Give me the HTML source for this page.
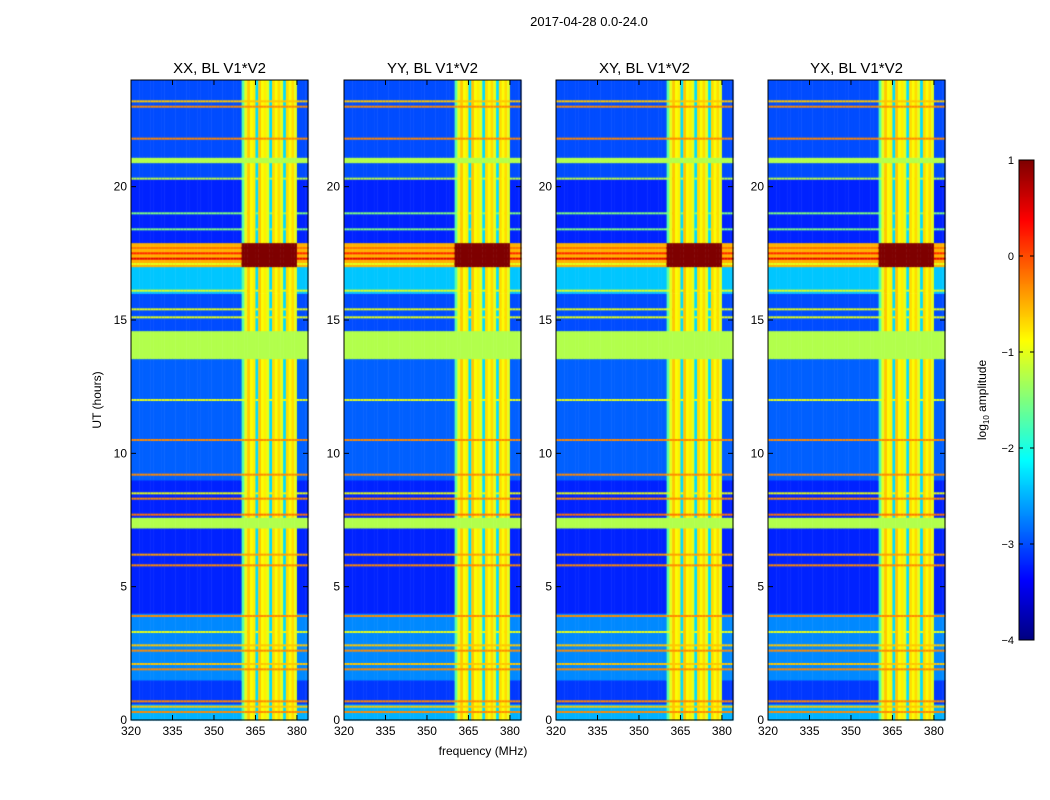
<!DOCTYPE html>
<html><head><meta charset="utf-8"><style>
body{margin:0;background:#fff;width:1050px;height:800px;overflow:hidden;font-family:"Liberation Sans",sans-serif}
#c{position:absolute;left:0;top:0}
#s{position:absolute;left:0;top:0}
</style></head><body>
<canvas id="c" width="1050" height="800"></canvas>
<svg id="s" width="1050" height="800"></svg>
<script>
// data: time segments [startHour, endHour, log10 amplitude]
const segStart=[0,0.6,1.5,4.0,7.2,7.6,9.0,13.55,14.6,16.0,17.0,17.9,20.3,20.9,21.1];
const segEnd=[0.6,1.5,4.0,7.2,7.6,9.0,13.55,14.6,16.0,17.0,17.9,20.3,20.9,21.1,24];
const segVal=[-2.5,-3.1,-2.7,-3.2,-1.25,-3.2,-2.9,-1.25,-3.0,-2.4,-0.5,-3.2,-3.0,-1.25,-3.0];
const segFlag=[0,0,0,0,1,0,0,1,0,0,2,0,0,1,0];
// narrow RFI lines in time
const lineHour=[0.3,0.5,0.7,1.9,2.1,2.6,2.8,3.3,3.9,5.8,6.2,7.7,8.3,8.5,9.2,10.5,12.0,15.1,15.4,16.1,17.1,17.3,17.5,17.7,18.4,19.0,20.3,21.8,23.0,23.2];
const lineVal=[-0.3,-0.6,-0.3,-0.3,-0.6,-0.3,-0.6,-1,-0.3,-0.3,-0.4,-0.2,-0.3,-1,-0.3,-0.3,-1,-1,-1,-1,-1,0.5,0.2,-0.2,-1.5,-1.5,-1.2,-0.3,-0.3,-0.6];
// frequency columns 320..383 MHz, per-MHz RFI level (-9 = none)
const freqMHz=[];for(let f=320;f<384;f++)freqMHz.push(f);
const colVal=[-9,-9,-9,-9,-9,-9,-9,-9,-9,-9,-9,-9,-9,-9,-9,-9,-9,-9,-9,-9,-9,-9,-9,-9,-9,-9,-9,-9,-9,-9,-9,-9,-9,-9,-9,-9,-9,-9,-9,-9,
-1.7,-1.0,-0.6,-0.9,-0.8,-2.3,-0.6,-0.9,-0.8,-1.0,-2.3,-0.7,-0.9,-0.7,-1.0,-2.3,-0.7,-0.9,-0.7,-1.0,-9,-9,-9,-9];
const xTicks=[320,335,350,365,380];
const yTicks=[0,5,10,15,20];
const cbTicks=[1,0,-1,-2,-3,-4];
const panelTitles=["XX, BL V1*V2","YY, BL V1*V2","XY, BL V1*V2","YX, BL V1*V2"];
const panelLeft=[131,344,556,768];
const PW=177,PT=80,PB=720,F0=320,F1=384,T1=24;

function jet(v){let t=Math.max(0,Math.min(1,(v+4)/5));
 const r=Math.max(0,Math.min(1,1.5-Math.abs(4*t-3))),g=Math.max(0,Math.min(1,1.5-Math.abs(4*t-2))),b=Math.max(0,Math.min(1,1.5-Math.abs(4*t-1)));
 return `rgb(${r*255|0},${g*255|0},${b*255|0})`;}
const ctx=document.getElementById('c').getContext('2d');
const S=document.getElementById('s');const NS="http://www.w3.org/2000/svg";
function el(t,a,txt){const e=document.createElementNS(NS,t);for(const k in a)e.setAttribute(k,a[k]);if(txt!==undefined)e.textContent=txt;S.appendChild(e);return e;}
const yS=h=>PB-(h/T1)*(PB-PT);
function cell(v,c,flag){if(flag===1)return v;if(flag===2&&c>-9)return 1;return Math.max(v,c);}
panelLeft.forEach((L,p)=>{
 const xS=f=>L+(f-F0)/(F1-F0)*PW;
 freqMHz.forEach((f,i)=>{
  const x0=xS(f),x1=xS(f+1);
  for(let s=0;s<segVal.length;s++){ctx.fillStyle=jet(cell(segVal[s],colVal[i],segFlag[s]));
   const y0=yS(segEnd[s]),y1=yS(segStart[s]);ctx.fillRect(x0,y0,x1-x0+0.5,y1-y0+0.5);}
  for(let l=0;l<lineHour.length;l++){const h=lineHour[l];
   const inStrong=h>17&&h<17.9&&colVal[i]>-9;
   ctx.fillStyle=jet(inStrong?1:Math.max(lineVal[l],colVal[i]));
   ctx.fillRect(x0,yS(h)-1,x1-x0+0.5,2);}
 });
 let g;
 g=el('rect',{x:L,y:PT,width:PW,height:PB-PT,fill:'none',stroke:'#000','stroke-width':1});
 
 g=el('text',{x:L+PW/2,y:73,'text-anchor':'middle','font-size':15},panelTitles[p]);
 
 xTicks.forEach(t=>{const x=xS(t);el('line',{x1:x,x2:x,y1:PB,y2:PB-5,stroke:'#000'});el('line',{x1:x,x2:x,y1:PT,y2:PT+5,stroke:'#000'});
  g=el('text',{x:x,y:735,'text-anchor':'middle','font-size':12},t);});
 yTicks.forEach(t=>{const y=yS(t);el('line',{x1:L,x2:L+5,y1:y,y2:y,stroke:'#000'});el('line',{x1:L+PW,x2:L+PW-5,y1:y,y2:y,stroke:'#000'});
  g=el('text',{x:L-4,y:y+4,'text-anchor':'end','font-size':12},t);});
});
// colorbar
const CX=1019,CW=15,CT=160,CB=640;
for(let y=CT;y<CB;y++){ctx.fillStyle=jet(1-(y-CT)/(CB-CT)*5);ctx.fillRect(CX,y,CW,1);}
let g=el('rect',{x:CX,y:CT,width:CW,height:CB-CT,fill:'none',stroke:'#000'});

cbTicks.forEach(t=>{const y=CT+(1-t)/5*(CB-CT);el('line',{x1:CX,x2:CX+4,y1:y,y2:y,stroke:'#000'});el('line',{x1:CX+CW,x2:CX+CW-4,y1:y,y2:y,stroke:'#000'});
 g=el('text',{x:CX-5,y:y+4,'text-anchor':'end','font-size':11},t<0?'\u2212'+(-t):t);});
g=el('text',{x:0,y:0,'font-size':12,transform:'translate(986,400) rotate(-90)','text-anchor':'middle'});
g.innerHTML='log<tspan font-size="8" dy="3">10</tspan><tspan dy="-3"> amplitude</tspan>';

g=el('text',{x:589,y:26,'text-anchor':'middle','font-size':13},'2017-04-28 0.0-24.0');

g=el('text',{x:483,y:755,'text-anchor':'middle','font-size':12},'frequency (MHz)');

g=el('text',{x:0,y:0,'font-size':12,transform:'translate(101,400) rotate(-90)','text-anchor':'middle'},'UT (hours)');

</script>
</body></html>
